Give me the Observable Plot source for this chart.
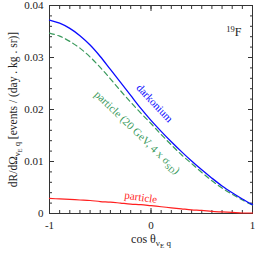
<!DOCTYPE html>
<html><head><meta charset="utf-8">
<script src="https://cdn.jsdelivr.net/npm/d3@7"></script>
<script src="https://cdn.jsdelivr.net/npm/@observablehq/plot@0.6"></script>
<style>body{margin:0;background:#fff} svg{display:block}</style>
</head><body><div id="chart"></div>
<script>
// ---- data ----
const cosTheta   = [-1.0,-0.9,-0.8,-0.7,-0.6,-0.5,-0.4,-0.3,-0.2,-0.1,0.0,0.1,0.2,0.3,0.4,0.5,0.6,0.7,0.8,0.9,1.0];
const darkonium  = [0.0372,0.0366,0.0356,0.0342,0.0324,0.0302,0.0277,0.0252,0.0227,0.0202,0.0179,0.0158,0.0138,0.0119,0.0101,0.0084,0.0068,0.0053,0.0040,0.0028,0.0017];
const particleSD = [0.0347,0.0341,0.0331,0.0318,0.0301,0.0281,0.0259,0.0236,0.0214,0.0193,0.0173,0.0152,0.0132,0.0113,0.0096,0.0079,0.0063,0.0049,0.0037,0.0026,0.0016];
const particle   = [0.0029,0.0028,0.0027,0.0026,0.0025,0.0023,0.0022,0.0020,0.0018,0.0017,0.0015,0.0013,0.0011,0.0009,0.0007,0.0006,0.0004,0.0003,0.0002,0.0001,0.0001];

const xMajorTicks = [-1, 0, 1];
const xTickLabels = ["-1", "0", "1"];
const xMinorTicks = [-1,-0.9,-0.8,-0.7,-0.6,-0.5,-0.4,-0.3,-0.2,-0.1,0,0.1,0.2,0.3,0.4,0.5,0.6,0.7,0.8,0.9,1];
const yMajorTicks = [0, 0.01, 0.02, 0.03, 0.04];
const yTickLabels = ["0", "0.01", "0.02", "0.03", "0.04"];
const yMinorTicks = [0,0.002,0.004,0.006,0.008,0.01,0.012,0.014,0.016,0.018,0.02,0.022,0.024,0.026,0.028,0.03,0.032,0.034,0.036,0.038,0.04];

const seriesNames  = ["darkonium", "particleSD", "particle"];
const seriesColors = ["#0a0aff", "#3a9a5c", "#ff1f1f"];
const curveLabels  = ["darkonium", "particle (20 GeV, 4 x σSD)", "particle"];
const labelX       = [0.035, -0.135, -0.10];
const labelY       = [0.0212, 0.0156, 0.0031];
const labelAngle   = [47, 44, 8];

const xLabel = "cos θνE q";
const yLabel = "dR/dΩνE q [events / (day . kg . sr)]";
const nucleus = "19F";

// ---- tables ----
const seriesValues = [darkonium, particleSD, particle];
const rows = [];
seriesNames.forEach((s, k) => cosTheta.forEach((c, i) => rows.push({series: s, x: c, y: seriesValues[k][i]})));
const labels = curveLabels.map((t, i) => ({text: t, x: labelX[i], y: labelY[i], rotate: labelAngle[i], color: seriesColors[i]}));

const font = "'Liberation Serif', 'Times New Roman', serif";
const axisColor = "#333";

const plot = Plot.plot({
  width: 258, height: 255,
  marginLeft: 49, marginRight: 6, marginTop: 5, marginBottom: 42,
  style: {fontFamily: font, fontSize: "11px", background: "white", color: "#222", overflow: "visible"},
  x: {domain: [-1, 1]},
  y: {domain: [0, 0.04]},
  color: {domain: seriesNames, range: seriesColors},
  marks: [
    // inward ticks on all four sides
    Plot.axisX({anchor: "bottom", ticks: xMinorTicks, tickSize: 3, dy: -3, fill: "none", stroke: axisColor, label: null}),
    Plot.axisX({anchor: "bottom", ticks: xMajorTicks, tickSize: 5, dy: -5, fill: "none", stroke: axisColor, label: null}),
    Plot.axisX({anchor: "top", ticks: xMinorTicks, tickSize: 3, dy: 3, fill: "none", stroke: axisColor, label: null}),
    Plot.axisX({anchor: "top", ticks: xMajorTicks, tickSize: 5, dy: 5, fill: "none", stroke: axisColor, label: null}),
    Plot.axisY({anchor: "left", ticks: yMinorTicks, tickSize: 3, dx: 3, fill: "none", stroke: axisColor, label: null}),
    Plot.axisY({anchor: "left", ticks: yMajorTicks, tickSize: 5, dx: 5, fill: "none", stroke: axisColor, label: null}),
    Plot.axisY({anchor: "right", ticks: yMinorTicks, tickSize: 3, dx: -3, fill: "none", stroke: axisColor, label: null}),
    Plot.axisY({anchor: "right", ticks: yMajorTicks, tickSize: 5, dx: -5, fill: "none", stroke: axisColor, label: null}),
    // tick labels
    Plot.axisX({anchor: "bottom", ticks: xMajorTicks, tickSize: 0, tickPadding: 8, fontSize: 11,
      tickFormat: d => xTickLabels[xMajorTicks.indexOf(d)], label: null, fill: "#222"}),
    Plot.axisY({anchor: "left", ticks: yMajorTicks, tickSize: 0, tickPadding: 6, fontSize: 11,
      tickFormat: d => yTickLabels[yMajorTicks.indexOf(d)], label: null, fill: "#222"}),
    Plot.frame({stroke: axisColor, strokeWidth: 1}),
    // curves
    Plot.line(rows.filter(d => d.series === "particle"), {x: "x", y: "y", stroke: "series", strokeWidth: 1.2, curve: "catmull-rom"}),
    Plot.line(rows.filter(d => d.series === "particleSD"), {x: "x", y: "y", stroke: "series", strokeWidth: 1.2, strokeDasharray: "5,3.5", curve: "catmull-rom"}),
    Plot.line(rows.filter(d => d.series === "darkonium"), {x: "x", y: "y", stroke: "series", strokeWidth: 1.3, curve: "catmull-rom"}),
    // curve labels
    Plot.text(labels, {x: "x", y: "y", text: "text", rotate: "rotate", fill: "color", fontSize: 11, textAnchor: "middle"}),
    // nucleus
    Plot.text([nucleus], {frameAnchor: "top-right", dx: -11, dy: 22, textAnchor: "end", fontSize: 12, fill: "#222"}),
    // axis titles
    Plot.text([yLabel], {frameAnchor: "left", dx: -36, rotate: -90, textAnchor: "middle", fontSize: 11.5, fill: "#222"}),
    Plot.text([xLabel], {frameAnchor: "bottom", dy: 29, textAnchor: "middle", fontSize: 12, fill: "#222"})
  ]
});

document.getElementById("chart").appendChild(plot);

// rich text (sub/superscripts) as real text
function rich(key, parts) {
  d3.select(plot).selectAll("text").filter(function () { return this.textContent === key; }).each(function () {
    const t = d3.select(this);
    t.text(null);
    parts.forEach(p => {
      const s = t.append("tspan").text(p.t);
      if (p.dy) s.attr("dy", p.dy);
      if (p.size) s.attr("font-size", p.size);
    });
  });
}
rich(yLabel, [
  {t: "dR/dΩ"}, {t: "ν", dy: 3, size: 8.5}, {t: "E", dy: 2, size: 6.5}, {t: " q", dy: -2, size: 8.5},
  {t: " [events / (day . kg . sr)]", dy: -3}
]);
rich(xLabel, [
  {t: "cos θ"}, {t: "ν", dy: 3, size: 9}, {t: "E", dy: 2, size: 7}, {t: " q", dy: -2, size: 9}
]);
rich(nucleus, [{t: "19", dy: -4, size: 8.5}, {t: "F", dy: 4}]);
rich(curveLabels[1], [{t: "particle (20 GeV, 4 x σ"}, {t: "SD", dy: 2.5, size: 8}, {t: ")", dy: -2.5}]);
</script>
</body></html>
